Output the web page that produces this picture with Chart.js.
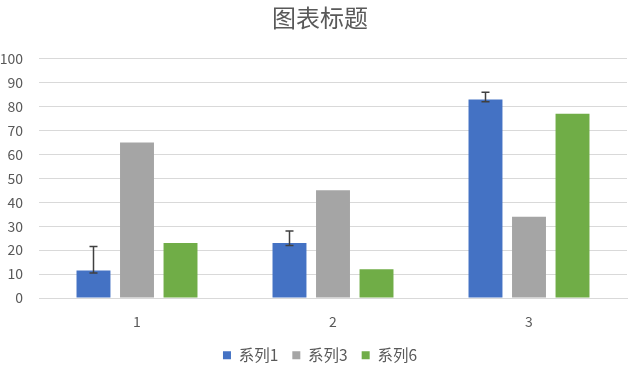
<!DOCTYPE html>
<html><head><meta charset="utf-8">
<script src="https://cdn.jsdelivr.net/npm/chart.js@4.4.1/dist/chart.umd.min.js"></script>
<style>html,body{margin:0;padding:0;background:#fff}#wrap{width:640px;height:369px}</style>
</head><body><div id="wrap"><canvas id="c" width="640" height="369"></canvas></div>
<script>
const categories = ['1', '2', '3'];
const series1 = [11.5, 23, 83];
const series3 = [65, 45, 34];
const series6 = [23, 12, 77];
const series1ErrPlus = [10, 5, 3];
const series1ErrMinus = [1, 1, 1];
const seriesNames = ['系列1', '系列3', '系列6'];
const titleText = '图表标题';

const FONT = '"Noto Sans CJK SC", "Noto Sans", sans-serif';

const errorBarPlugin = {
  id: 'errbars',
  afterDatasetsDraw(chart) {
    const ctx = chart.ctx;
    const meta = chart.getDatasetMeta(0);
    const y = chart.scales.y;
    ctx.save();
    ctx.strokeStyle = '#404040';
    ctx.lineWidth = 1.5;
    meta.data.forEach((bar, i) => {
      const v = series1[i];
      const top = y.getPixelForValue(v + series1ErrPlus[i]);
      const bot = y.getPixelForValue(v - series1ErrMinus[i]);
      const x = Math.round(bar.x) + 0.5;
      ctx.beginPath();
      ctx.moveTo(x, top); ctx.lineTo(x, bot);
      ctx.moveTo(x - 4, top); ctx.lineTo(x + 4, top);
      ctx.moveTo(x - 4, bot); ctx.lineTo(x + 4, bot);
      ctx.stroke();
    });
    ctx.restore();
  }
};

// centre title and legend on the full canvas width
const centerBoxesPlugin = {
  id: 'centerBoxes',
  afterLayout(chart) {
    [chart.titleBlock, chart.legend].forEach(b => {
      if (!b) return;
      b.left = 0; b.right = chart.width; b.width = chart.width;
    });
  }
};

new Chart(document.getElementById('c'), {
  type: 'bar',
  data: {
    labels: categories,
    datasets: [
      { label: seriesNames[0], data: series1, backgroundColor: '#4472C4' },
      { label: seriesNames[1], data: series3, backgroundColor: '#A5A5A5' },
      { label: seriesNames[2], data: series6, backgroundColor: '#70AD47' }
    ]
  },
  options: {
    responsive: false,
    animation: false,
    devicePixelRatio: 1,
    categoryPercentage: 0.666,
    barPercentage: 0.78,
    layout: { padding: { left: 0, right: 13, top: 3, bottom: 0 } },
    plugins: {
      title: {
        display: true, text: titleText, color: '#595959',
        font: { family: FONT, size: 24, weight: 'normal' },
        padding: { top: 0, bottom: 27 }
      },
      legend: {
        position: 'bottom',
        maxHeight: 35.5,
        labels: {
          color: '#595959', font: { family: FONT, size: 15.5 },
          boxWidth: 8, boxHeight: 8, padding: 14
        }
      },
      tooltip: { enabled: false }
    },
    scales: {
      x: {
        afterFit(s) { s.height = 35.5; },
        grid: { display: false },
        border: { display: true, color: '#d9d9d9' },
        ticks: { color: '#595959', font: { family: FONT, size: 14 }, padding: 7 }
      },
      y: {
        min: 0, max: 100,
        afterFit(s) { s.width = 39; },
        grid: { color: '#d9d9d9', drawTicks: false },
        border: { display: false },
        ticks: { stepSize: 10, color: '#595959', font: { family: FONT, size: 14 }, padding: 16 }
      }
    }
  },
  plugins: [errorBarPlugin, centerBoxesPlugin]
});
</script>
</body></html>
